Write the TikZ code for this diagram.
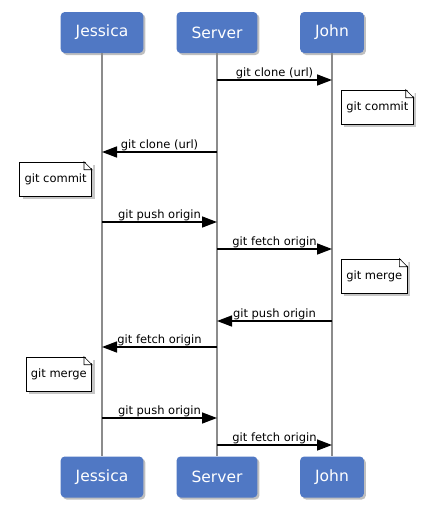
\documentclass[tikz,border=0pt]{standalone}
\usepackage{fontspec}
\setmainfont{DejaVu Sans}
\usetikzlibrary{arrows.meta,shadows}

\definecolor{actorblue}{RGB}{80,120,196}
\definecolor{lifegray}{RGB}{140,140,140}

\tikzset{
  actor/.style={fill=actorblue, rounded corners=4pt, minimum height=41pt, inner xsep=15pt,
    text=white, font=\fontsize{15.5}{18}\selectfont,
    drop shadow={shadow xshift=2pt, shadow yshift=-2pt, opacity=0.5}},
  life/.style={draw=lifegray, line width=2pt},
  msg/.style={draw=black, line width=1.5pt, -{Triangle[length=15pt,width=11pt]}},
  lbl/.style={above, inner sep=0.5pt, font=\fontsize{11.5}{13}\selectfont},
  note/.style={draw=black, fill=white, line width=0.6pt, minimum height=34pt, inner xsep=5pt,
    font=\fontsize{11.5}{13}\selectfont,
    drop shadow={shadow xshift=3pt, shadow yshift=-3pt, opacity=0.45}},
}

\begin{document}
\begin{tikzpicture}[x=1pt,y=-1pt]
\useasboundingbox (0,0) rectangle (430,506);

% ACTORS

\node[actor] (jesT) at (102,32.5) {Jessica};
\node[actor] (srvT) at (217,32.5) {Server};
\node[actor] (johT) at (332,32.5) {John};

\node[actor] (jesB) at (102,477) {Jessica};
\node[actor] (srvB) at (217,477) {Server};
\node[actor] (johB) at (332,477) {John};

% LIFELINES

\draw[life] (jesT.south) -- (jesB.north);
\draw[life] (srvT.south) -- (srvB.north);
\draw[life] (johT.south) -- (johB.north);

\foreach \y [count=\i] in {80,152,222,249,321,347,418,445} {
  \coordinate (j\i) at (jesT |- 0,\y);
  \coordinate (s\i) at (srvT |- 0,\y);
  \coordinate (o\i) at (johT |- 0,\y);
}

% MESSAGES

\draw[msg] (s1) -- node[lbl]{git clone (url)} (o1);
\draw[msg] (s2) -- node[lbl]{git clone (url)} (j2);
\draw[msg] (j3) -- node[lbl]{git push origin} (s3);
\draw[msg] (s4) -- node[lbl]{git fetch origin} (o4);
\draw[msg] (o5) -- node[lbl]{git push origin} (s5);
\draw[msg] (s6) -- node[lbl]{git fetch origin} (j6);
\draw[msg] (j7) -- node[lbl]{git push origin} (s7);
\draw[msg] (s8) -- node[lbl]{git fetch origin} (o8);

% NOTES

\node[note, anchor=west] (onote1) at (341,107) {git commit};
\node[note, anchor=east] (jnote1) at (92,179) {git commit};
\node[note, anchor=west] (onote2) at (341,276) {git merge};
\node[note, anchor=east] (jnote2) at (92,374) {git merge};

\foreach \n in {onote1,jnote1,onote2,jnote2} {
  \fill[white] ([xshift=-8pt,yshift=1pt]\n.north east) -- ([xshift=1pt,yshift=1pt]\n.north east)
    -- ([xshift=1pt,yshift=-8pt]\n.north east) -- cycle;
  \draw[line width=0.6pt] ([xshift=-8pt]\n.north east) -- ([yshift=-8pt]\n.north east)
    -- ([xshift=-8pt,yshift=-8pt]\n.north east) -- cycle;
}

\end{tikzpicture}
\end{document}
